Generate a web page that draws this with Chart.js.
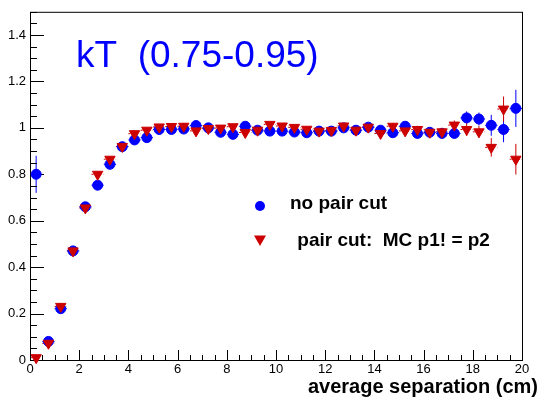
<!DOCTYPE html>
<html>
<head>
<meta charset="utf-8">
<script src="https://cdn.jsdelivr.net/npm/chart.js@4"></script>
<style>
  body { margin: 0; background: #fff; }
  canvas { display: block; }
</style>
</head>
<body>
<canvas id="sepChart" width="542" height="401"></canvas>
<script>
// bin centres of the separation histogram (cm), bin width 0.5
const separation = [0.25, 0.75, 1.25, 1.75, 2.25, 2.75, 3.25, 3.75, 4.25, 4.75,
    5.25, 5.75, 6.25, 6.75, 7.25, 7.75, 8.25, 8.75, 9.25, 9.75,
    10.25, 10.75, 11.25, 11.75, 12.25, 12.75, 13.25, 13.75, 14.25, 14.75,
    15.25, 15.75, 16.25, 16.75, 17.25, 17.75, 18.25, 18.75, 19.25, 19.75];

// ratio without the pair cut
const noPairCut = [0.800, 0.080, 0.221, 0.470, 0.660, 0.753, 0.843, 0.919, 0.948, 0.958,
    0.993, 0.993, 0.995, 1.010, 1.000, 0.981, 0.972, 1.007, 0.990, 0.986,
    0.986, 0.982, 0.979, 0.986, 0.986, 1.000, 0.990, 1.003, 0.990, 0.979,
    1.007, 0.976, 0.981, 0.976, 0.976, 1.043, 1.038, 1.011, 0.993, 1.084];
const noPairCutErr = [0.080, 0.010, 0.010, 0.012, 0.012, 0.012, 0.012, 0.012, 0.012, 0.012,
    0.012, 0.012, 0.012, 0.012, 0.012, 0.012, 0.012, 0.012, 0.012, 0.012,
    0.012, 0.012, 0.012, 0.012, 0.012, 0.013, 0.013, 0.013, 0.014, 0.014,
    0.015, 0.016, 0.017, 0.018, 0.020, 0.028, 0.028, 0.045, 0.055, 0.080];

// ratio with the MC pair cut (p1 != p2)
const pairCut = [0.010, 0.072, 0.231, 0.470, 0.655, 0.800, 0.865, 0.920, 0.975, 0.990,
    1.004, 1.006, 1.007, 0.987, 0.997, 0.999, 1.005, 0.980, 0.990, 1.015,
    1.008, 1.002, 0.994, 0.986, 0.989, 1.008, 0.990, 1.003, 0.976, 1.007,
    0.987, 0.993, 0.981, 0.983, 1.012, 0.993, 0.983, 0.916, 1.081, 0.865];
const pairCutErr = [0.005, 0.008, 0.010, 0.012, 0.012, 0.012, 0.012, 0.012, 0.012, 0.012,
    0.012, 0.012, 0.012, 0.012, 0.012, 0.012, 0.012, 0.012, 0.012, 0.012,
    0.012, 0.012, 0.012, 0.012, 0.012, 0.013, 0.013, 0.013, 0.014, 0.014,
    0.015, 0.016, 0.017, 0.018, 0.020, 0.028, 0.025, 0.040, 0.054, 0.066];

const xTicks = [0, 2, 4, 6, 8, 10, 12, 14, 16, 18, 20];
const yTicks = [0, 0.2, 0.4, 0.6, 0.8, 1, 1.2, 1.4];

const BLUE = '#0000ff';
const RED = '#cc0000';
const FONT = '"Liberation Sans", Arial, Helvetica, sans-serif';

function toPoints(ys) {
    return separation.map((x, i) => ({ x: x, y: ys[i] }));
}

// frame, inward ticks, error bars, title and legend in the ROOT style
const rootStyle = {
    id: 'rootStyle',
    beforeDatasetsDraw(chart) {
        const ctx = chart.ctx;
        const a = chart.chartArea;
        const xs = chart.scales.x;
        const ys = chart.scales.y;
        ctx.save();

        // error bars: x error is half a bin, drawn under the markers
        const sets = [
            { vals: noPairCut, errs: noPairCutErr, color: BLUE, dash: [] },
            { vals: pairCut, errs: pairCutErr, color: RED, dash: [2, 2] }
        ];
        sets.forEach(s => {
            ctx.strokeStyle = s.color;
            ctx.lineWidth = 1;
            separation.forEach((x, i) => {
                const px = xs.getPixelForValue(x);
                const py = ys.getPixelForValue(s.vals[i]);
                ctx.setLineDash(s.dash);
                ctx.beginPath();
                ctx.moveTo(xs.getPixelForValue(x - 0.25), py);
                ctx.lineTo(xs.getPixelForValue(x + 0.25), py);
                ctx.stroke();
                ctx.setLineDash([]);
                ctx.beginPath();
                ctx.moveTo(px, ys.getPixelForValue(s.vals[i] - s.errs[i]));
                ctx.lineTo(px, ys.getPixelForValue(s.vals[i] + s.errs[i]));
                ctx.stroke();
            });
        });

        // frame
        ctx.strokeStyle = '#000';
        ctx.lineWidth = 1;
        ctx.strokeRect(a.left + 0.5, a.top + 0.5, a.right - a.left, a.bottom - a.top);

        // y ticks: major every 0.2, minor every 0.05
        ctx.beginPath();
        for (let k = 0; k <= 30; k++) {
            const v = k * 0.05;
            const py = Math.round(ys.getPixelForValue(v)) + 0.5;
            const len = (k % 4 === 0) ? 14 : 7;
            ctx.moveTo(a.left, py);
            ctx.lineTo(a.left + len, py);
        }
        // x ticks: major every 2, minor every 0.5
        for (let k = 0; k <= 40; k++) {
            const v = k * 0.5;
            const px = Math.round(xs.getPixelForValue(v)) + 0.5;
            const len = (k % 4 === 0) ? 10 : 5;
            ctx.moveTo(px, a.bottom);
            ctx.lineTo(px, a.bottom - len);
        }
        ctx.stroke();
        ctx.restore();
    },
    afterDraw(chart) {
        const ctx = chart.ctx;
        ctx.save();

        // kT bin label
        ctx.fillStyle = BLUE;
        ctx.font = '37px ' + FONT;
        ctx.textBaseline = 'alphabetic';
        ctx.textAlign = 'left';
        ctx.fillText('kT  (0.75-0.95)', 76, 67);

        // legend
        ctx.fillStyle = BLUE;
        ctx.beginPath();
        ctx.arc(260, 206, 5, 0, Math.PI * 2);
        ctx.fill();
        ctx.fillStyle = RED;
        ctx.beginPath();
        ctx.moveTo(254, 235.5);
        ctx.lineTo(266, 235.5);
        ctx.lineTo(260, 246);
        ctx.closePath();
        ctx.fill();

        ctx.fillStyle = '#000';
        ctx.font = 'bold 19px ' + FONT;
        ctx.fillText('no pair cut', 290, 209);
        ctx.fillText(' pair cut:  MC p1! = p2', 292, 246);

        // x axis title, right aligned past the frame
        ctx.font = 'bold 20px ' + FONT;
        ctx.textAlign = 'right';
        ctx.fillText('average separation (cm)', 538, 393);
        ctx.restore();
    }
};

const ctx = document.getElementById('sepChart').getContext('2d');

const sepChart = new Chart(ctx, {
    type: 'scatter',
    data: {
        datasets: [{
            label: 'no pair cut',
            data: toPoints(noPairCut),
            pointStyle: 'circle',
            pointRadius: 5,
            borderWidth: 1,
            backgroundColor: BLUE,
            borderColor: BLUE,
            clip: false,
            order: 2
        }, {
            label: ' pair cut:  MC p1! = p2',
            data: toPoints(pairCut),
            pointStyle: 'triangle',
            rotation: 180,
            pointRadius: 6,
            borderWidth: 1,
            backgroundColor: RED,
            borderColor: RED,
            clip: false,
            order: 1
        }]
    },
    options: {
        responsive: false,
        animation: false,
        devicePixelRatio: 1,
        layout: { padding: { top: 8, right: 20, left: 0, bottom: 0 } },
        plugins: {
            legend: { display: false },
            tooltip: { enabled: false }
        },
        scales: {
            x: {
                type: 'linear',
                min: 0,
                max: 20,
                grid: { display: false, drawTicks: false },
                border: { display: false },
                afterBuildTicks: s => { s.ticks = xTicks.map(v => ({ value: v })); },
                afterFit: s => { s.height = 41; },
                ticks: {
                    autoSkip: false,
                    maxRotation: 0,
                    padding: 2,
                    color: '#000',
                    font: { size: 13, family: FONT },
                    callback: v => String(v)
                }
            },
            y: {
                type: 'linear',
                min: 0,
                max: 1.5,
                grid: { display: false, drawTicks: false },
                border: { display: false },
                afterBuildTicks: s => { s.ticks = yTicks.map(v => ({ value: v })); },
                afterFit: s => { s.width = 30; },
                ticks: {
                    autoSkip: false,
                    padding: 4,
                    color: '#000',
                    font: { size: 13, family: FONT },
                    callback: v => String(v)
                }
            }
        }
    },
    plugins: [rootStyle]
});
</script>
</body>
</html>
